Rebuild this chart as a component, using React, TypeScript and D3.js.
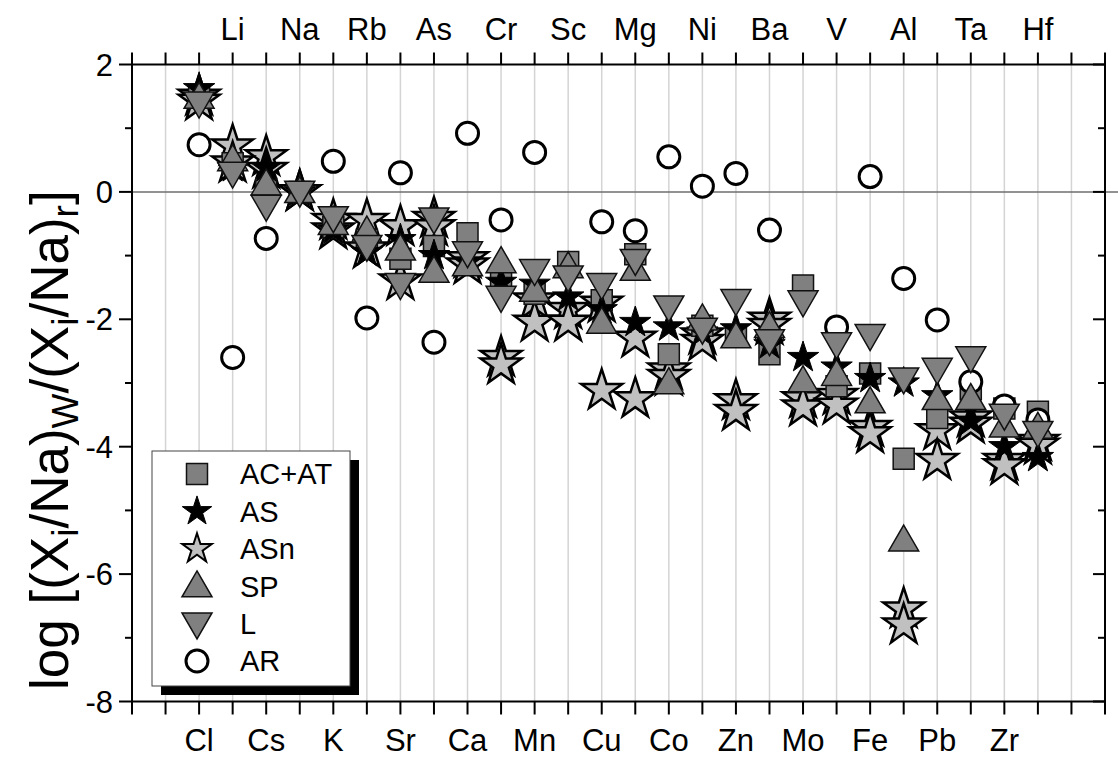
import React from 'react';
import * as d3 from 'd3';

// Elements in plotting order; even entries are labelled below the axis, odd ones above.
const elements = ['Cl', 'Li', 'Cs', 'Na', 'K', 'Rb', 'Sr', 'As', 'Ca', 'Cr', 'Mn', 'Sc', 'Cu', 'Mg', 'Co', 'Ni', 'Zn', 'Ba', 'Mo', 'V', 'Fe', 'Al', 'Pb', 'Ta', 'Zr', 'Hf'];
const yMajorTicks = [-8, -6, -4, -2, 0, 2];
const yMinorTicks = [-7, -5, -3, -1, 1];

// log[(Xi/Na)w/(Xi/Na)r] per element, one value per element in the order above
const acat = [1.5, 0.45, 0.05, 0, -0.55, -0.75, -1.05, -0.85, -0.65, -1.35, -1.6, -1.1, -1.7, -0.98, -2.55, -2.1, -2.25, -2.55, -1.47, -3.05, -2.85, -4.19, -3.55, -3.1, -3.4, -3.45];
const asVals = [1.62, 0.38, 0.38, 0, -0.6, -0.95, -0.75, -1.0, -1.1, -1.42, -1.45, -1.65, -1.85, -2.05, -2.12, -2.2, -2.15, -2.4, -2.6, -2.75, -2.93, -3.0, -3.2, -3.6, -4.0, -4.17];
const asnA = [1.5, 0.72, 0.55, 0, -0.45, -0.45, -0.55, -0.42, -1.05, -2.6, -1.7, -1.85, -1.75, -2.3, -2.8, -2.25, -3.28, -2.0, -3.25, -3.2, -3.7, -6.55, -3.75, -3.55, -4.22, -3.92];
const asnB = [1.42, 0.45, 0.35, 0, -0.6, -0.9, -1.4, -0.55, -1.15, -2.72, -2.05, -2.05, -3.12, -3.25, -2.9, -2.35, -3.45, -2.1, -3.38, -3.35, -3.8, -6.8, -4.22, -3.65, -4.3, -3.98];
const spVals = [1.48, 0.5, 0.12, 0, -0.5, -0.62, -0.9, -1.25, -1.15, -1.1, -1.55, -1.18, -2.05, -1.22, -3.0, -2.0, -2.28, -2.12, -2.97, -2.87, -3.3, -5.47, -3.25, -3.25, -3.68, -3.7];
const lVals = [1.4, 0.3, -0.22, 0, -0.4, -0.85, -1.45, -0.42, -0.95, -1.65, -1.23, -1.33, -1.45, -1.07, -1.8, -2.15, -1.7, -2.33, -1.72, -2.38, -2.25, -2.93, -2.78, -2.6, -3.5, -3.77];
const arVals: (number | null)[] = [0.74, -2.6, -0.73, null, 0.48, -1.98, 0.3, -2.36, 0.92, -0.44, 0.62, null, -0.47, -0.61, 0.55, 0.09, 0.29, -0.6, null, -2.12, 0.24, -1.36, -2.01, -2.98, -3.36, -3.58];

const legendItems = ['AC+AT', 'AS', 'ASn', 'SP', 'L', 'AR'];

const W = 1118;
const H = 757;
const FONT = '"Liberation Sans", Arial, sans-serif';
const DARK = '#808080';
const LIGHT = '#c0c0c0';

const x = d3.scaleLinear().domain([0, 29]).range([132, 1105]);
const y = d3.scaleLinear().domain([-8, 2]).range([701.5, 64.5]);
const pos = (i: number) => x(i + 2);

const starPath = (r: number) => d3.symbol(d3.symbolStar, (r * r) / 0.8908130915)() as string;
const triPath = (w: number) => {
  const k = w / (2 * Math.sqrt(3));
  return d3.symbol(d3.symbolTriangle, k * k * 3 * Math.sqrt(3))() as string;
};
const squarePath = (s: number) => d3.symbol(d3.symbolSquare, s * s)() as string;

type Kind = 'square' | 'star' | 'starLight' | 'tri' | 'triDown' | 'circle';

function Marker({ kind, cx, cy, big }: { kind: Kind; cx: number; cy: number; big?: boolean }) {
  const t = `translate(${cx},${cy})`;
  switch (kind) {
    case 'square':
      return <path d={squarePath(21)} transform={t} fill={DARK} stroke="#111" strokeWidth={1.5} />;
    case 'star':
      return <path d={starPath(big ? 16.5 : 15.5)} transform={t} fill="#000" stroke="#000" strokeWidth={1} />;
    case 'starLight':
      return <path d={starPath(big ? 21.5 : 15.5)} transform={t} fill={LIGHT} stroke="#000" strokeWidth={big ? 2.5 : 2} />;
    case 'tri':
      return <path d={triPath(30)} transform={`${t} translate(0,2)`} fill={DARK} stroke="#111" strokeWidth={1.5} />;
    case 'triDown':
      return <path d={triPath(30)} transform={`${t} rotate(180) translate(0,2)`} fill={DARK} stroke="#111" strokeWidth={1.5} />;
    case 'circle':
      return <circle cx={cx} cy={cy} r={11} fill="#fff" stroke="#000" strokeWidth={3} />;
  }
}

function Series({ values, kind }: { values: (number | null)[]; kind: Kind }) {
  return (
    <g>
      {values.map((v, i) =>
        v === null ? null : <Marker key={i} kind={kind} cx={pos(i)} cy={y(v)} big />
      )}
    </g>
  );
}

export default function App() {
  const positions = d3.range(0, 30);
  const legendKinds: Kind[] = ['square', 'star', 'starLight', 'tri', 'triDown', 'circle'];
  const lx = 152;
  const ly = 451;
  const lw = 198;
  const lh = 235;

  return (
    <svg width={W} height={H} style={{ position: 'absolute', left: 0, top: 0 }} fontFamily={FONT}>
      <rect width={W} height={H} fill="#fff" />

      {/* vertical grid */}
      {positions.slice(1, 29).map((p) => (
        <line key={p} x1={x(p)} x2={x(p)} y1={y(2)} y2={y(-8)} stroke="#d4d4d4" strokeWidth={1.5} />
      ))}
      {/* zero reference line */}
      <line x1={x(0)} x2={W} y1={y(0)} y2={y(0)} stroke="#6e6e6e" strokeWidth={1.5} />

      {/* data */}
      <Series values={asnA} kind="starLight" />
      <Series values={asnB} kind="starLight" />
      <Series values={acat} kind="square" />
      <Series values={arVals} kind="circle" />
      <Series values={asVals} kind="star" />
      <Series values={spVals} kind="tri" />
      <Series values={lVals} kind="triDown" />

      {/* frame */}
      <rect x={x(0)} y={y(2)} width={x(29) - x(0)} height={y(-8) - y(2)} fill="none" stroke="#000" strokeWidth={2} />

      {/* x ticks top and bottom */}
      {positions.map((p) => (
        <g key={p}>
          <line x1={x(p)} x2={x(p)} y1={y(2)} y2={y(2) - 12} stroke="#000" strokeWidth={2} />
          <line x1={x(p)} x2={x(p)} y1={y(-8)} y2={y(-8) + 13} stroke="#000" strokeWidth={2} />
        </g>
      ))}
      {elements.map((e, i) => (
        <text
          key={e}
          x={pos(i)}
          y={i % 2 === 0 ? 751 : 40}
          textAnchor="middle"
          fontSize={31}
          fill="#000"
        >
          {e}
        </text>
      ))}

      {/* y ticks */}
      {yMajorTicks.map((t) => (
        <g key={t}>
          <line x1={x(0) - 13} x2={x(0)} y1={y(t)} y2={y(t)} stroke="#000" strokeWidth={2} />
          <line x1={x(29) - 12} x2={x(29)} y1={y(t)} y2={y(t)} stroke="#000" strokeWidth={2} />
          <text x={113} y={y(t)} dy="0.36em" textAnchor="end" fontSize={31} fill="#000">
            {t}
          </text>
        </g>
      ))}
      {yMinorTicks.map((t) => (
        <g key={t}>
          <line x1={x(0) - 7} x2={x(0)} y1={y(t)} y2={y(t)} stroke="#000" strokeWidth={2} />
          <line x1={x(29) - 7} x2={x(29)} y1={y(t)} y2={y(t)} stroke="#000" strokeWidth={2} />
        </g>
      ))}

      {/* y axis title */}
      <text transform="translate(68,690) rotate(-90)" textAnchor="start" fontSize={53} fill="#000">
        <tspan>log [(X</tspan>
        <tspan fontSize={37} dy={10}>i</tspan>
        <tspan dy={-10}>/Na)</tspan>
        <tspan fontSize={37} dy={10}>W</tspan>
        <tspan dy={-10}>/(X</tspan>
        <tspan fontSize={37} dy={10}>i</tspan>
        <tspan dy={-10}>/Na)</tspan>
        <tspan fontSize={37} dy={10}>r</tspan>
        <tspan dy={-10}>]</tspan>
      </text>

      {/* legend */}
      <rect x={lx + 9} y={ly + 9} width={lw} height={lh} fill="#000" />
      <rect x={lx} y={ly} width={lw} height={lh} fill="#fff" stroke="#444" strokeWidth={1} />
      {legendItems.map((name, i) => {
        const cy = ly + 23 + i * 37.4;
        return (
          <g key={name}>
            <Marker kind={legendKinds[i]} cx={197} cy={cy} />
            <text x={240} y={cy} dy="0.36em" fontSize={29} fill="#000">
              {name}
            </text>
          </g>
        );
      })}
    </svg>
  );
}
